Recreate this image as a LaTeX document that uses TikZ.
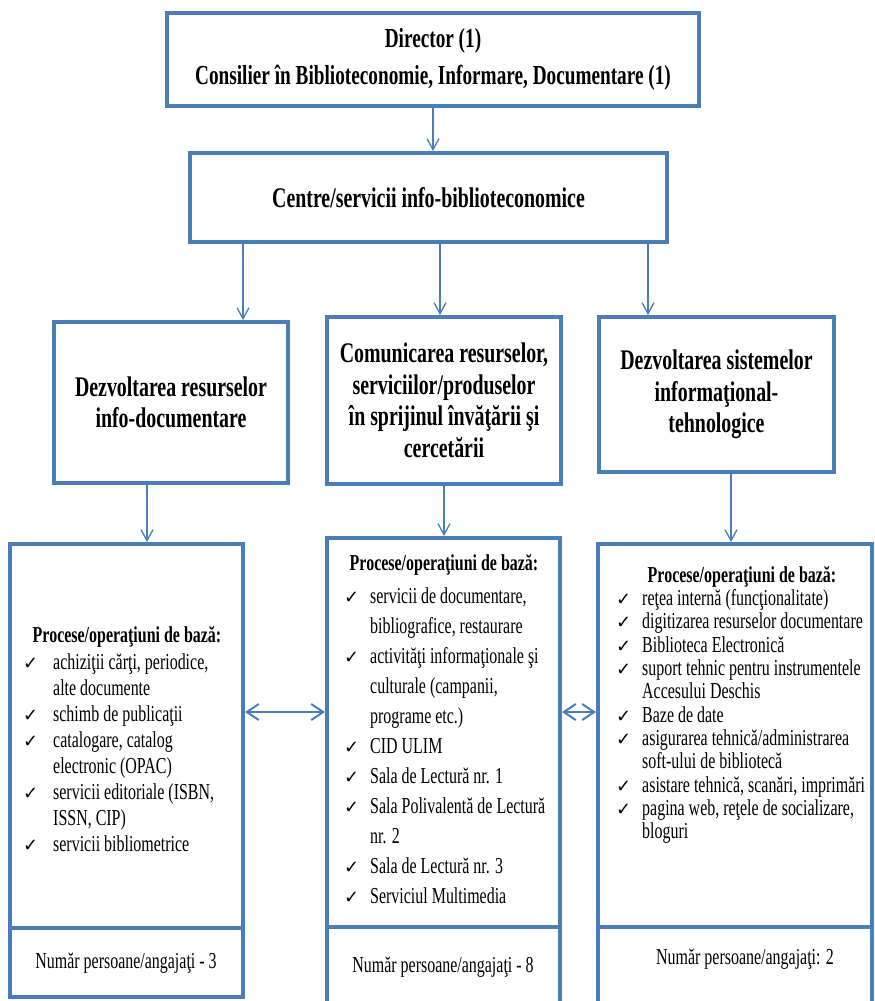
\documentclass[tikz,border=0pt]{standalone}
\usepackage{fontspec}
\setmainfont{Liberation Serif}[FakeStretch=0.7]
\newfontfamily\symfont{DejaVu Sans}
\usetikzlibrary{arrows.meta,calc}
\definecolor{bordblue}{RGB}{74,126,187}
\newcommand{\ck}{{\symfont ✓}}
\begin{document}
\begin{tikzpicture}[x=1pt,y=-1pt,
  box/.style={draw=bordblue, line width=4pt, fill=white, inner sep=0pt, outer sep=0pt, anchor=north west},
  hdA/.style={font=\bfseries\fontsize{27.5}{37}\selectfont, align=center},
  hdB/.style={font=\bfseries\fontsize{28.4}{31.5}\selectfont, align=center},
  proc/.style={anchor=base, inner sep=0pt, font=\bfseries\fontsize{22.8}{24}\selectfont},
  itm/.style={anchor=base west, inner sep=0pt, font=\fontsize{22.8}{24}\selectfont},
  chk/.style={anchor=base west, inner sep=0pt, font=\fontsize{18}{20}\symfont},
  cnt/.style={anchor=base, inner sep=0pt, font=\fontsize{22.8}{24}\selectfont},
  arr/.style={draw=bordblue, line width=1.3pt, -{Straight Barb[length=11pt,width=12pt]}, shorten >=2pt, shorten <=2pt},
  darr/.style={draw=bordblue, line width=2pt, {Straight Barb[length=12pt,width=16pt]}-{Straight Barb[length=12pt,width=16pt]}, shorten >=2pt, shorten <=2pt}
]
\useasboundingbox[fill=white] (0,0) rectangle (875,1001);

% level 1 and 2
\node[box, hdA, minimum width=532pt, minimum height=93pt] (top) at (167,13)
  {Director (1)\\Consilier în Biblioteconomie, Informare, Documentare (1)};
\node[box, hdB, minimum width=477pt, minimum height=89pt] (centre) at (190,153)
  {Centre/servicii info-biblioteconomice};

% level 3
\node[box, hdB, minimum width=234pt, minimum height=161pt] (l3) at (54,322)
  {Dezvoltarea resurselor\\info-documentare};
\node[box, hdB, minimum width=234pt, minimum height=167pt] (m3) at (327,317)
  {Comunicarea resurselor,\\serviciilor/produselor\\în sprijinul învăţării şi\\cercetării};
\node[box, hdB, minimum width=235pt, minimum height=155pt] (r3) at (599,317)
  {Dezvoltarea sistemelor\\informaţional-\\tehnologice};

% level 4
\node[box, minimum width=233pt, minimum height=384pt] (lb) at (10,544) {};
\node[box, minimum width=233pt, minimum height=69pt] (lk) at (10,928) {};
\node[box, minimum width=233pt, minimum height=389pt] (mb) at (327,538) {};
\node[box, minimum width=233pt, minimum height=90pt] (mk) at (327,927) {};
\node[box, minimum width=274pt, minimum height=383pt] (rb) at (598,544) {};
\node[box, minimum width=274pt, minimum height=90pt] (rk) at (598,927) {};

% helper coordinates
\coordinate (xL) at (243,0);
\coordinate (xM) at (440,0);
\coordinate (xR) at (648,0);
\coordinate (xL4) at (147,0);
\coordinate (xM4) at (444,0);
\coordinate (xR4) at (731,0);
\coordinate (yD) at (0,712);

% arrows
\draw[arr] (top.south) -- (top.south |- centre.north);
\draw[arr] (centre.south -| xL) -- (l3.north -| xL);
\draw[arr] (centre.south -| xM) -- (m3.north -| xM);
\draw[arr] (centre.south -| xR) -- (r3.north -| xR);
\draw[arr] (l3.south -| xL4) -- (lb.north -| xL4);
\draw[arr] (m3.south -| xM4) -- (mb.north -| xM4);
\draw[arr] (r3.south -| xR4) -- (rb.north -| xR4);
\draw[darr] (lb.east |- yD) -- (mb.west |- yD);
\draw[darr] (mb.east |- yD) -- (rb.west |- yD);

% left column
\node[proc] (lh) at (127,642) {Procese/operaţiuni de bază:};
\foreach \y/\c/\t [count=\i] in {
  669/1/{achiziţii cărţi, periodice,},
  695/0/{alte documente},
  721/1/{schimb de publicaţii},
  747/1/{catalogare, catalog},
  773/0/{electronic (OPAC)},
  799/1/{servicii editoriale (ISBN,},
  825/0/{ISSN, CIP)},
  851/1/{servicii bibliometrice}}{
  \node[itm] (L\i) at (53,\y) {\t};
  \ifnum\c=1 \node[chk] (Lc\i) at (23,\y) {\ck}; \fi
}
\node[cnt] (lkt) at (126,968) {Număr persoane/angajaţi - 3};

% middle column
\node[proc] (mh) at (444,570) {Procese/operaţiuni de bază:};
\foreach \y/\c/\t [count=\i] in {
  603/1/{servicii de documentare,},
  633/0/{bibliografice, restaurare},
  663/1/{activităţi informaţionale şi},
  693/0/{culturale (campanii,},
  723/0/{programe etc.)},
  753/1/{CID ULIM},
  783/1/{Sala de Lectură nr. 1},
  813/1/{Sala Polivalentă de Lectură},
  843/0/{nr. 2},
  873/1/{Sala de Lectură nr. 3},
  903/1/{Serviciul Multimedia}}{
  \node[itm] (M\i) at (370,\y) {\t};
  \ifnum\c=1 \node[chk] (Mc\i) at (344,\y) {\ck}; \fi
}
\node[cnt] (mkt) at (443,972) {Număr persoane/angajaţi - 8};

% right column
\node[proc] (rh) at (742,582) {Procese/operaţiuni de bază:};
\foreach \y/\c/\t [count=\i] in {
  605/1/{reţea internă (funcţionalitate)},
  628/1/{digitizarea resurselor documentare},
  652/1/{Biblioteca Electronică},
  675/1/{suport tehnic pentru instrumentele},
  698/0/{Accesului Deschis},
  722/1/{Baze de date},
  745/1/{asigurarea tehnică/administrarea},
  768/0/{soft-ului de bibliotecă},
  792/1/{asistare tehnică, scanări, imprimări},
  815/1/{pagina web, reţele de socializare,},
  838/0/{bloguri}}{
  \node[itm] (R\i) at (642,\y) {\t};
  \ifnum\c=1 \node[chk] (Rc\i) at (616,\y) {\ck}; \fi
}
\node[cnt] (rkt) at (745,964) {Număr persoane/angajaţi: 2};
\end{tikzpicture}
\end{document}
